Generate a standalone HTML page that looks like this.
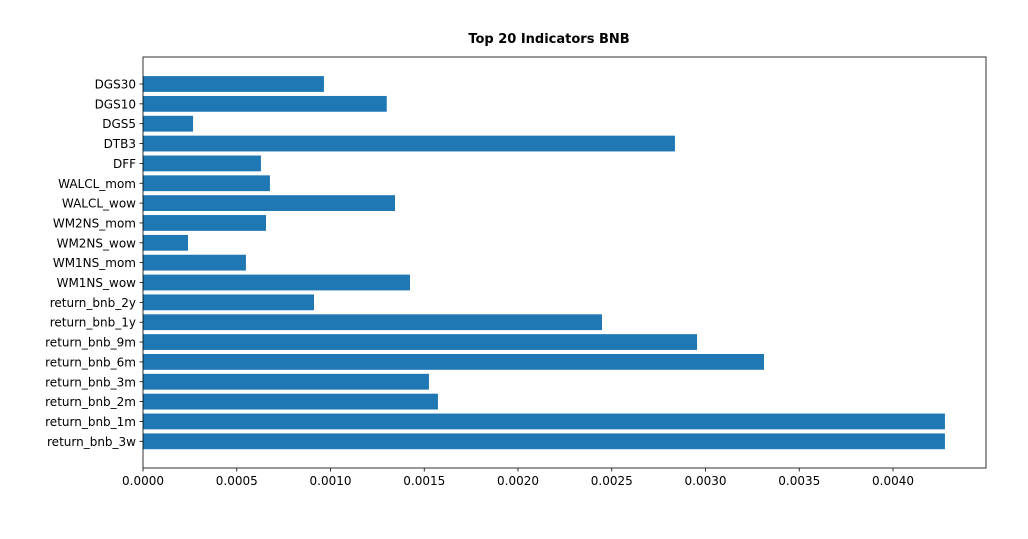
<!DOCTYPE html>
<html><head><meta charset="utf-8"><style>
body{margin:0;background:#fff;width:1028px;height:534px;overflow:hidden}
svg text{font-family:"DejaVu Sans","Liberation Sans",sans-serif;font-size:12px;fill:#000}
</style></head><body>
<svg id="chart" width="1028" height="534">
<text x="549" y="43" text-anchor="middle" style="font-weight:bold;font-size:13px">Top 20 Indicators BNB</text>
<g id="bars"></g><g id="axes"></g>
</svg>
<script>
const categories=["DGS30","DGS10","DGS5","DTB3","DFF","WALCL_mom","WALCL_wow","WM2NS_mom","WM2NS_wow","WM1NS_mom","WM1NS_wow","return_bnb_2y","return_bnb_1y","return_bnb_9m","return_bnb_6m","return_bnb_3m","return_bnb_2m","return_bnb_1m","return_bnb_3w"];
const values=[0.000965,0.0013,0.000267,0.002837,0.000629,0.000677,0.001344,0.000656,0.00024,0.000549,0.001424,0.000912,0.002448,0.002955,0.003312,0.001525,0.001573,0.004277,0.004277];
const ticks=[0,0.0005,0.001,0.0015,0.002,0.0025,0.003,0.0035,0.004];
const tickLabels=["0.0000","0.0005","0.0010","0.0015","0.0020","0.0025","0.0030","0.0035","0.0040"];
const L=143,R=986,T=57,B=468;
const x=v=>L+v*187500;
const step=19.85, y=i=>84+i*step;
const ns="http://www.w3.org/2000/svg";
const bars=document.getElementById('bars'),axes=document.getElementById('axes');
function mk(tag,attrs,parent){const e=document.createElementNS(ns,tag);for(const k in attrs)e.setAttribute(k,attrs[k]);parent.appendChild(e);return e;}
categories.forEach((c,i)=>{
  const r=mk('rect',{x:x(0),y:y(i)-7.9,width:x(values[i])-x(0),height:15.8,fill:'#1f77b4'},bars);
  
  
  mk('line',{x1:L-3.5,x2:L,y1:y(i),y2:y(i),stroke:'#000','stroke-width':0.8},axes);
  const t=mk('text',{x:L-7,y:y(i)+4.5,'text-anchor':'end'},axes);t.textContent=c;
  
  
});
ticks.forEach((v,i)=>{
  mk('line',{x1:x(v),x2:x(v),y1:B,y2:B+3.5,stroke:'#000','stroke-width':0.8},axes);
  const t=mk('text',{x:x(v),y:B+17,'text-anchor':'middle'},axes);t.textContent=tickLabels[i];
  
  
});
const f=mk('rect',{x:L,y:T,width:R-L,height:B-T,fill:'none',stroke:'#000','stroke-width':0.8},axes);


</script>
</body></html>
